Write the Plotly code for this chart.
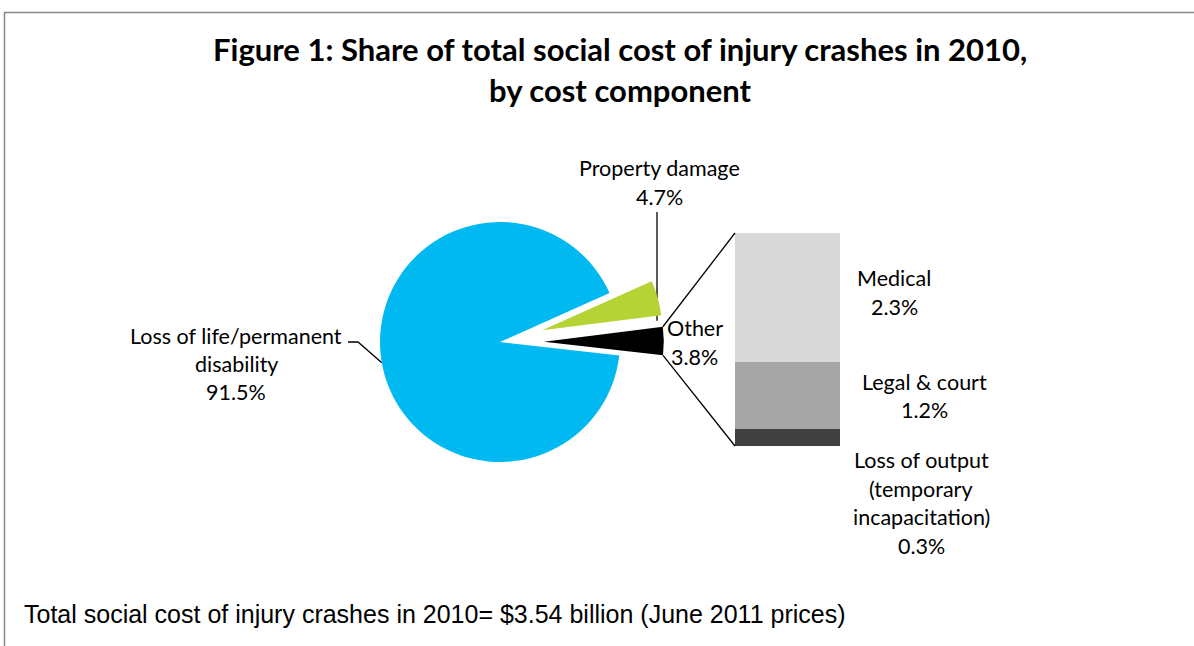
import math
import plotly.graph_objects as go

W, H = 1194, 646

# ---------------- data ----------------
pie_labels = ["Other", "Property damage", "Loss of life/permanent disability"]
pie_values = [3.8, 4.7, 91.5]
pie_colors = ["#000000", "#B5D334", "#00B9F1"]

bar_labels = ["Loss of output (temporary incapacitation)", "Legal & court", "Medical"]
bar_values = [0.3, 1.2, 2.3]
bar_colors = ["#404040", "#A6A6A6", "#D9D9D9"]

title_lines = ["Figure 1: Share of total social cost of injury crashes in 2010,",
               "by cost component"]
footer_text = "Total social cost of injury crashes in 2010= $3.54 billion (June 2011 prices)"

# ---------------- geometry (pixels) ----------------
CX, CY, R = 500, 342, 120
PULL = 0.365
START = -6.5           # math angle (deg) where the first slice starts
BX0, BX1, BY0, BY1 = 735, 840, 233, 446

LABEL_FONT = "Lato"
LBL_SIZE = 21.5


def px(x):
    return x / W


def py(y):
    return 1 - y / H


tot = sum(pie_values)
span0 = 360 * pie_values[0] / tot
half = R * (1 + PULL)
fig = go.Figure()

# plotly (counterclockwise): first slice spans math angles [90-rotation, 90-rotation+span0]
fig.add_trace(go.Pie(
    labels=pie_labels, values=pie_values, sort=False,
    direction="counterclockwise", rotation=90 - START - span0,
    pull=[PULL, PULL, 0],
    marker=dict(colors=pie_colors, line=dict(width=0)),
    textinfo="none", hoverinfo="label+percent", showlegend=False,
    domain=dict(x=[px(CX - half), px(CX + half)], y=[py(CY + half), py(CY - half)]),
))

for lab, v, c in zip(bar_labels, bar_values, bar_colors):
    fig.add_trace(go.Bar(
        x=[0], y=[v], width=1, name=lab, showlegend=False,
        marker=dict(color=c, line=dict(width=0)), xaxis="x", yaxis="y",
        hoverinfo="name+y",
    ))

# connector lines from the "Other" slice to the bar
mid0 = math.radians(START + span0 / 2)
ocx = CX + PULL * R * math.cos(mid0)
ocy = CY - PULL * R * math.sin(mid0)
a_top = math.radians(START + span0)
a_bot = math.radians(START)
tx, ty = ocx + R * math.cos(a_top), ocy - R * math.sin(a_top)
bx, by = ocx + R * math.cos(a_bot), ocy - R * math.sin(a_bot)

# leader for property damage (green slice)
span1 = 360 * pie_values[1] / tot
mid1 = math.radians(START + span0 + span1 / 2)
gcx = CX + PULL * R * math.cos(mid1)
gcy = CY - PULL * R * math.sin(mid1)
lead_x = 657
rr = 0.96 * R
ga = math.acos((lead_x - gcx) / rr)
g_y = gcy - rr * math.sin(ga)

# leader for loss of life (blue slice)
ba = math.radians(190)
blx, bly = CX + R * math.cos(ba), CY - R * math.sin(ba)

fig.add_trace(go.Scatter(
    x=[tx, BX0, None, bx, BX0, None, lead_x, lead_x, None, 348, 358, blx],
    y=[ty, BY0, None, by, BY1, None, 212, g_y, None, 342, 342, bly],
    mode="lines", line=dict(color="black", width=1.3),
    xaxis="x2", yaxis="y2", hoverinfo="skip", showlegend=False,
))

annotations = []


def add_lines(lines, x, y0, dy, size=LBL_SIZE, family=LABEL_FONT, bold=False):
    for i, t in enumerate(lines):
        annotations.append(dict(
            text=("<b>" + t + "</b>") if bold else t,
            x=px(x), y=py(y0 + i * dy), xref="paper", yref="paper",
            xanchor="center", yanchor="middle", showarrow=False,
            font=dict(family=family, size=size, color="#000000"),
        ))


def pct(v):
    return f"{v:.1f}%"


add_lines(title_lines, 620, 49, 41, size=31, bold=True)

add_lines(["Property damage", pct(pie_values[1])], 660, 168, 29)
add_lines(["Loss of life/permanent", "disability", pct(pie_values[2])], 236, 336, 28)
add_lines([pie_labels[0], pct(pie_values[0])], 695, 328, 29)
add_lines([bar_labels[2], pct(bar_values[2])], 894, 278, 29)
add_lines([bar_labels[1], pct(bar_values[1])], 924, 382, 28)
add_lines(["Loss of output", "(temporary", "incapacitation)", pct(bar_values[0])], 921, 460, 28.5)

annotations.append(dict(
    text=footer_text, x=px(22), y=py(614), xref="paper", yref="paper",
    xanchor="left", yanchor="middle", showarrow=False,
    font=dict(family="Liberation Sans, Arial", size=25, color="#000000"),
))

shapes = [
    dict(type="line", xref="paper", yref="paper", x0=px(4), x1=px(W + 5), y0=py(12.5), y1=py(12.5),
         line=dict(color="#878787", width=1.5)),
    dict(type="line", xref="paper", yref="paper", x0=px(4.5), x1=px(4.5), y0=py(12.5), y1=py(H + 5),
         line=dict(color="#878787", width=1.5)),
]

fig.update_layout(
    width=W, height=H,
    margin=dict(l=0, r=0, t=0, b=0),
    paper_bgcolor="white", plot_bgcolor="rgba(0,0,0,0)",
    barmode="stack", bargap=0,
    xaxis=dict(domain=[px(BX0), px(BX1)], range=[-0.5, 0.5], visible=False, fixedrange=True),
    yaxis=dict(domain=[py(BY1), py(BY0)], range=[0, sum(bar_values)], visible=False, fixedrange=True),
    xaxis2=dict(domain=[0, 1], range=[0, W], visible=False, anchor="y2", fixedrange=True),
    yaxis2=dict(domain=[0, 1], range=[H, 0], visible=False, anchor="x2", fixedrange=True),
    annotations=annotations, shapes=shapes,
    showlegend=False,
)

fig.write_html("out.html", config={"displayModeBar": False},
               post_script="document.body.style.margin='0';document.body.style.padding='0';")
